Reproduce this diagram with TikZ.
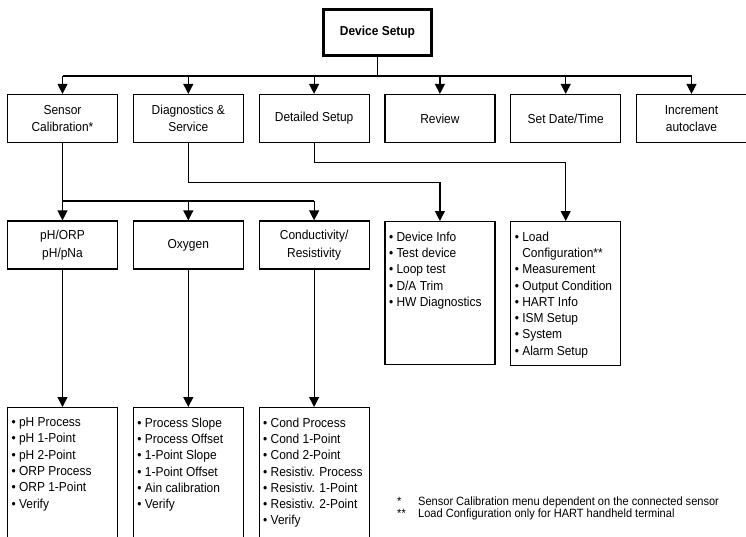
\documentclass[tikz,border=0pt]{standalone}
\usepackage{fontspec}
\setmainfont[FakeStretch=0.92]{Liberation Sans}
\usetikzlibrary{arrows.meta}

\newcommand{\itm}{\textbullet\ }
\newcommand{\itmgap}{\hphantom{\textbullet\ }}

\begin{document}
\begin{tikzpicture}[x=1pt,y=-1pt,
	menubox/.style={draw, line width=1.2pt, minimum width=110pt, minimum height=48pt,
		align=center, inner sep=2pt, font=\fontsize{13}{17.5}\selectfont},
	listbox/.style={draw, line width=1.2pt, minimum width=110pt, anchor=north},
	listtext/.style={anchor=north west, align=left, inner sep=0pt,
		font=\fontsize{13}{16.3}\selectfont},
	link/.style={line width=1.2pt},
	arrow/.style={link, -{Triangle[width=10pt,length=10pt]}},
	note/.style={anchor=north west, align=left, inner sep=0pt,
		font=\fontsize{12}{11.8}\selectfont}
]

\useasboundingbox (0,0) rectangle (746,536);
\clip (0,0) rectangle (746,536);

\node[draw, line width=3pt, minimum width=108pt, minimum height=46pt,
	font=\fontsize{13}{14}\selectfont\bfseries] (setup) at (377.5,32.5) {Device Setup};

\foreach \nm/\x/\txt in {cal/62.5/{Sensor\\Calibration*},
		diag/188.3/{Diagnostics \&\\Service},
		detail/314.1/{Detailed Setup},
		review/439.9/{Review},
		date/565.7/{Set Date/Time},
		incr/691.5/{Increment\\autoclave}}{
	\node[menubox] (\nm) at (\x,118.5) {\txt};
}

\foreach \nm/\x/\txt in {ph/62.5/{pH/ORP\\pH/pNa},
		oxy/188.3/{Oxygen},
		cond/314.1/{Conductivity/\\Resistivity}}{
	\node[menubox] (\nm) at (\x,245) {\txt};
}

\node[listbox, minimum height=143pt] (info) at (439.9,221) {};
\node[listbox, minimum height=144pt] (load) at (565.7,221) {};

\node[listbox, minimum height=140pt] (phlist) at (62.5,407) {};
\node[listbox, minimum height=140pt] (oxylist) at (188.3,407) {};
\node[listbox, minimum height=140pt] (condlist) at (314.1,407) {};

\node[listtext] (infotext) at ([shift={(4.5,10.5)}]info.north west)
	{\itm Device Info\\\itm Test device\\\itm Loop test\\\itm D/A Trim\\\itm HW Diagnostics};
\node[listtext] (loadtext) at ([shift={(4.5,10.5)}]load.north west)
	{\itm Load\\\itmgap Configuration**\\\itm Measurement\\\itm Output Condition\\
	\itm HART Info\\\itm ISM Setup\\\itm System\\\itm Alarm Setup};
\node[listtext] (phtext) at ([shift={(4.5,10.5)}]phlist.north west)
	{\itm pH Process\\\itm pH 1-Point\\\itm pH 2-Point\\\itm ORP Process\\
	\itm ORP 1-Point\\\itm Verify};
\node[listtext] (oxytext) at ([shift={(4.5,10.5)}]oxylist.north west)
	{\itm Process Slope\\\itm Process Offset\\\itm 1-Point Slope\\\itm 1-Point Offset\\
	\itm Ain calibration\\\itm Verify};
\node[listtext] (condtext) at ([shift={(4.5,10.5)}]condlist.north west)
	{\itm Cond Process\\\itm Cond 1-Point\\\itm Cond 2-Point\\\itm Resistiv. Process\\
	\itm Resistiv. 1-Point\\\itm Resistiv. 2-Point\\\itm Verify};

\coordinate (bus) at (0,76);
\coordinate (subbus) at (0,201);

\draw[link] (setup.south) -- (setup.south |- bus);
\draw[link] (bus -| cal) -- (bus -| incr);
\foreach \nm in {cal,diag,detail,review,date,incr}{
	\draw[arrow] (bus -| \nm) -- (\nm.north);
}

\draw[arrow] (detail.south) -- ++(0,19) -| (load.north);
\draw[arrow] (diag.south) -- ++(0,39) -| (info.north);

\draw[link] (cal.south) -- (cal.south |- subbus);
\draw[link] (subbus -| ph) -- (subbus -| cond);
\foreach \nm in {ph,oxy,cond}{
	\draw[arrow] (subbus -| \nm) -- (\nm.north);
}

\draw[arrow] (ph.south) -- (phlist.north);
\draw[arrow] (oxy.south) -- (oxylist.north);
\draw[arrow] (cond.south) -- (condlist.north);

\node[note] (notes) at (397,497)
	{\makebox[21pt][l]{*}Sensor Calibration menu dependent on the connected sensor\\
	\makebox[21pt][l]{**}Load Configuration only for HART handheld terminal};

\end{tikzpicture}
\end{document}
